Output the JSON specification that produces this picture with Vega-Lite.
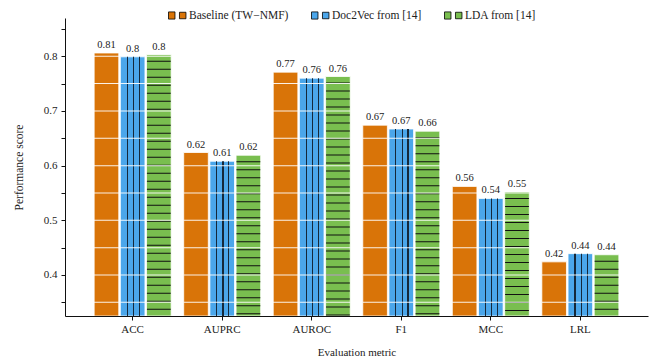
{
  "$schema": "https://vega.github.io/schema/vega-lite/v6.json",
  "width": 583,
  "height": 298,
  "autosize": {"type": "none"},
  "padding": {"left": 65, "top": 18, "right": 1, "bottom": 42},
  "config": {
    "view": {"stroke": null},
    "font": "'Liberation Serif', 'Times New Roman', serif",
    "text": {"font": "'Liberation Serif', 'Times New Roman', serif"},
    "legend": {"labelFont": "'Liberation Serif', 'Times New Roman', serif", "titleFont": "'Liberation Serif', 'Times New Roman', serif"},
    "axis": {"labelFont": "'Liberation Serif', 'Times New Roman', serif", "titleFont": "'Liberation Serif', 'Times New Roman', serif", "labelColor": "#222", "titleColor": "#222", "titleFontWeight": "normal", "domainColor": "#111", "tickColor": "#111", "domainWidth": 1, "tickWidth": 1}
  },
  "data": {
    "values": [
      {"metric": "ACC", "method": "Baseline (TW−NMF)", "score": 0.806},
      {"metric": "ACC", "method": "Doc2Vec from [14]", "score": 0.799},
      {"metric": "ACC", "method": "LDA from [14]", "score": 0.803},
      {"metric": "AUPRC", "method": "Baseline (TW−NMF)", "score": 0.624},
      {"metric": "AUPRC", "method": "Doc2Vec from [14]", "score": 0.608},
      {"metric": "AUPRC", "method": "LDA from [14]", "score": 0.619},
      {"metric": "AUROC", "method": "Baseline (TW−NMF)", "score": 0.771},
      {"metric": "AUROC", "method": "Doc2Vec from [14]", "score": 0.760},
      {"metric": "AUROC", "method": "LDA from [14]", "score": 0.763},
      {"metric": "F1", "method": "Baseline (TW−NMF)", "score": 0.674},
      {"metric": "F1", "method": "Doc2Vec from [14]", "score": 0.667},
      {"metric": "F1", "method": "LDA from [14]", "score": 0.663},
      {"metric": "MCC", "method": "Baseline (TW−NMF)", "score": 0.562},
      {"metric": "MCC", "method": "Doc2Vec from [14]", "score": 0.540},
      {"metric": "MCC", "method": "LDA from [14]", "score": 0.552},
      {"metric": "LRL", "method": "Baseline (TW−NMF)", "score": 0.424},
      {"metric": "LRL", "method": "Doc2Vec from [14]", "score": 0.439},
      {"metric": "LRL", "method": "LDA from [14]", "score": 0.437}
    ]
  },
  "encoding": {
    "x": {
      "field": "metric", "type": "nominal",
      "sort": ["ACC", "AUPRC", "AUROC", "F1", "MCC", "LRL"],
      "scale": {"paddingInner": 0.14, "paddingOuter": 0.3256},
      "axis": {"labelAngle": 0, "title": "Evaluation metric", "tickSize": 4, "labelPadding": 3, "labelFontSize": 11, "titleFontSize": 11, "titlePadding": 12, "zindex": 1}
    },
    "xOffset": {"field": "method", "type": "nominal", "scale": {"paddingInner": 0.06}},
    "y": {
      "field": "score", "type": "quantitative",
      "scale": {"domain": [0.325, 0.87], "zero": false, "nice": false},
      "axis": {
        "values": [0.35, 0.4, 0.45, 0.5, 0.55, 0.6, 0.65, 0.7, 0.75, 0.8, 0.85],
        "labelExpr": "round(datum.value*20) % 2 == 0 ? format(datum.value, '.1f') : ''",
        "title": "Performance score",
        "grid": false, "zindex": 1,
        "tickSize": 4, "labelPadding": 4, "labelFontSize": 11, "titleFontSize": 11.5, "titlePadding": 19
      }
    }
  },
  "layer": [
    {
      "mark": {"type": "bar", "stroke": "white", "strokeWidth": 0.8},
      "encoding": {
        "y2": {"datum": 0.325},
        "color": {
          "field": "method", "type": "nominal",
          "scale": {"range": ["#D97408", "#4BA6EA", "#79BE4F"]},
          "legend": {
            "orient": "none", "legendX": 103, "legendY": -12, "direction": "horizontal", "title": null,
            "symbolType": "M-1,-0.4H-0.28V0.4H-1Z M0.22,-0.36H0.94V0.36H0.22Z",
            "symbolSize": 324, "symbolStrokeColor": "black", "symbolStrokeWidth": 0.8, "symbolOpacity": 1,
            "labelFontSize": 11.5, "labelOffset": 2, "columnPadding": 20, "padding": 0, "labelColor": "#222"
          }
        }
      }
    },
    {
      "transform": [{"filter": "datum.method === 'Doc2Vec from [14]'"}],
      "mark": {
        "type": "bar",
        "fill": {
          "gradient": "linear", "x1": 0, "y1": 0, "x2": 1, "y2": 0,
          "stops": [
            {"offset": 0, "color": "rgba(0,0,0,0)"},
            {"offset": 0.26, "color": "rgba(0,0,0,0)"},
            {"offset": 0.26, "color": "#15283a"},
            {"offset": 0.305, "color": "#15283a"},
            {"offset": 0.305, "color": "rgba(0,0,0,0)"},
            {"offset": 0.51, "color": "rgba(0,0,0,0)"},
            {"offset": 0.51, "color": "#15283a"},
            {"offset": 0.555, "color": "#15283a"},
            {"offset": 0.555, "color": "rgba(0,0,0,0)"},
            {"offset": 0.75, "color": "rgba(0,0,0,0)"},
            {"offset": 0.75, "color": "#15283a"},
            {"offset": 0.795, "color": "#15283a"},
            {"offset": 0.795, "color": "rgba(0,0,0,0)"},
            {"offset": 1, "color": "rgba(0,0,0,0)"}
          ]
        }
      },
      "encoding": {"y2": {"datum": 0.325}}
    },
    {
      "transform": [{"filter": "datum.method === 'LDA from [14]'"}],
      "mark": {"type": "rule", "stroke": "#111", "strokeWidth": 23.8, "strokeDash": [1.1, 6.9], "strokeDashOffset": 2, "strokeCap": "butt"},
      "encoding": {"y2": {"datum": 0.325}}
    },
    {
      "mark": {"type": "rule", "stroke": "white", "strokeWidth": 25, "strokeDash": [1, 26.339], "strokeDashOffset": 14.169, "strokeCap": "butt", "opacity": 0.9},
      "encoding": {"y": {"datum": 0.325}, "y2": {"field": "score"}}
    },
    {
      "mark": {"type": "text", "dy": -5, "baseline": "alphabetic", "fontSize": 10.5, "fill": "#222"},
      "encoding": {"text": {"field": "score", "type": "quantitative", "format": ".2~f"}}
    }
  ]
}
